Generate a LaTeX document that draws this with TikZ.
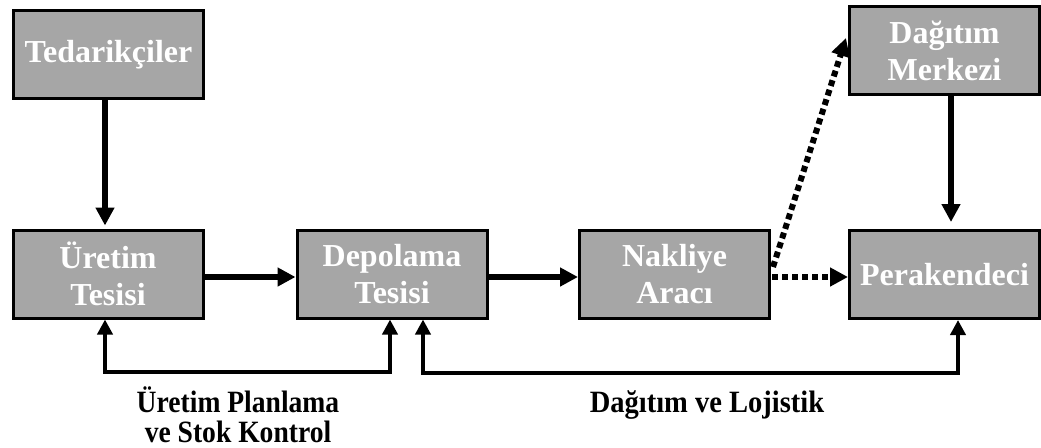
\documentclass[tikz,border=0pt]{standalone}
\usepackage{fontspec}
\setmainfont{Liberation Serif}
\usetikzlibrary{arrows.meta,calc}
\definecolor{boxgray}{RGB}{166,166,166}
\begin{document}
\begin{tikzpicture}[x=1pt,y=-1pt,
  stage/.style={draw=black,line width=3pt,fill=boxgray,minimum width=190pt,minimum height=88pt,
    inner sep=0pt,align=center,text=white,font=\fontsize{32}{37}\selectfont\bfseries},
  flow/.style={line width=6pt,-{Triangle[length=18pt,width=18pt]}},
  dotflow/.style={line width=6pt,dash pattern=on 6pt off 4pt,-{Triangle[length=18pt,width=18pt]}},
  loop/.style={line width=4pt,{Triangle[length=15pt,width=15pt]}-{Triangle[length=15pt,width=15pt]}},
  caption/.style={align=center,font=\fontsize{31}{30}\selectfont\bfseries,inner sep=0pt}]
\useasboundingbox (0,0) rectangle (1041,447);

% stages of the chain
\node[stage] (T) at (108.5,54.5) {Tedarikçiler};
\node[stage] (U) at (108,274) {Üretim\\Tesisi};
\node[stage] (D) at (392,274) {Depolama\\Tesisi};
\node[stage] (N) at (674.5,274.5) {Nakliye\\Aracı};
\node[stage] (P) at (944.5,274.5) {Perakendeci};
\node[stage] (M) at (944.5,50.5) {Dağıtım\\Merkezi};

% material flow
\draw[flow] (T.south -| 105,0) -- ($(U.north -| 105,0)+(0,-3)$);
\draw[flow] (U.east |- 0,277) -- (D.west |- 0,277);
\draw[flow] (D.east |- 0,277) -- (N.west |- 0,277);
\draw[flow] (M.south -| 951,0) -- ($(P.north -| 951,0)+(0,-7)$);
\draw[dotflow] ($(N.east |- 0,277)+(1,0)$) -- (P.west |- 0,277);
\draw[dotflow] ($(N.east |- 0,267)+(2,0)$) -- ($(M.west |- 0,38)+(-2,0)$);

% control loops under the chain
\coordinate (a1) at (105,372);
\coordinate (a2) at (390,372);
\coordinate (b1) at (423,373);
\coordinate (b2) at (958,373);
\draw[loop] (U.south -| a1) -- (a1) -- (a2) -- (D.south -| a2);
\draw[loop] (D.south -| b1) -- (b1) -- (b2) -- (P.south -| b2);

\node[caption,anchor=base] (L1) at (238,442) {\scalebox{0.89}[1]{Üretim Planlama}\\\scalebox{0.89}[1]{ve Stok Kontrol}};
\node[caption,anchor=base] (L2) at (707,412) {\scalebox{0.92}[1]{Dağıtım ve Lojistik}};
\end{tikzpicture}
\end{document}
